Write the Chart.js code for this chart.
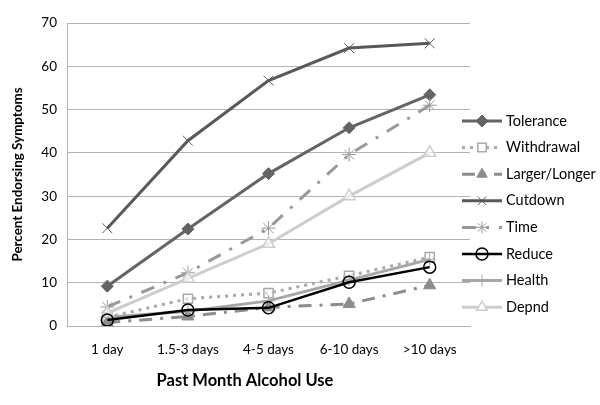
<!DOCTYPE html>
<html>
<head>
<meta charset="utf-8">
<script src="https://cdn.jsdelivr.net/npm/chart.js@4/dist/chart.umd.min.js"></script>
<style>
  html, body { margin: 0; padding: 0; background: #fff; }
  #wrap { width: 600px; height: 405px; }
</style>
</head>
<body>
<div id="wrap"><canvas id="chart" width="600" height="405"></canvas></div>
<script>
// --- DATA ---
const categories = ['1 day', '1.5-3 days', '4-5 days', '6-10 days', '>10 days'];

const tolerance  = [9.2, 22.4, 35.2, 45.8, 53.4];
const withdrawal = [2.0, 6.3, 7.6, 11.6, 15.9];
const largerLonger = [0.8, 2.2, 4.3, 5.1, 9.4];
const cutdown    = [22.6, 42.8, 56.7, 64.2, 65.3];
const timeSpent  = [4.4, 12.3, 22.6, 39.6, 51.0];
const reduce     = [1.4, 3.7, 4.2, 10.1, 13.6];
const health     = [2.0, 3.4, 5.8, 10.6, 15.4];
const depnd      = [3.0, 11.0, 19.0, 30.0, 40.0];

const yTicks = [0, 10, 20, 30, 40, 50, 60, 70];

const xTitle = 'Past Month Alcohol Use';
const yTitle = 'Percent Endorsing Symptoms';

const FONT = 'Lato, "Open Sans", sans-serif';

function serie(label, data, color, opts) {
    return Object.assign({
        label: label,
        data: data,
        borderColor: color,
        backgroundColor: color,
        pointBorderColor: color,
        pointBackgroundColor: color,
        borderWidth: 3,
        pointRadius: 5,
        pointBorderWidth: 1,
        tension: 0,
        fill: false
    }, opts);
}

// ordre de dessin: les séries du bas sont dessinées par dessus
const datasets = [
    serie('Tolerance', tolerance, '#646464', { pointStyle: 'rectRot', pointRadius: 6, order: 8 }),
    serie('Withdrawal', withdrawal, '#a9a9a9', { pointStyle: 'rect', pointRadius: 6.5, borderDash: [3, 5],
        pointBackgroundColor: 'rgba(255,255,255,0.6)', pointBorderWidth: 1.5, order: 7 }),
    serie('Larger/Longer', largerLonger, '#8c8c8c', { pointStyle: 'triangle', pointRadius: 7, borderDash: [13, 8, 3, 8], order: 6 }),
    serie('Cutdown', cutdown, '#595959', { pointStyle: 'crossRot', pointRadius: 7, order: 5 }),
    serie('Time', timeSpent, '#999999', { pointStyle: 'star', pointRadius: 7, borderDash: [14, 10, 3, 10], order: 4 }),
    serie('Reduce', reduce, '#000000', { pointStyle: 'circle', pointRadius: 6, borderWidth: 2.5,
        pointBackgroundColor: 'rgba(255,255,255,0)', pointBorderWidth: 1.5, order: 1 }),
    serie('Health', health, '#a6a6a6', { pointStyle: 'cross', pointRadius: 6, order: 3 }),
    serie('Depnd', depnd, '#cdcdcd', { pointStyle: 'triangle', pointRadius: 7,
        pointBackgroundColor: 'rgba(255,255,255,0.6)', pointBorderWidth: 1.5, order: 2 })
];

// --- LÉGENDE (ligne + marqueur, comme Excel) + titre X ---
const excelLegend = {
    id: 'excelLegend',
    afterDraw(chart) {
        const ctx = chart.ctx;
        const x0 = 462, x1 = 502, xm = 482, xt = 506;
        let y = 121;
        chart.data.datasets.forEach(ds => {
            ctx.save();
            ctx.strokeStyle = ds.borderColor;
            ctx.lineWidth = ds.borderWidth;
            ctx.setLineDash(ds.borderDash || []);
            ctx.beginPath();
            ctx.moveTo(x0, y);
            ctx.lineTo(x1, y);
            ctx.stroke();
            ctx.setLineDash([]);
            ctx.fillStyle = ds.pointBackgroundColor === 'rgba(255,255,255,0.6)' ? '#fff' : ds.pointBackgroundColor;
            ctx.strokeStyle = ds.pointBorderColor;
            ctx.lineWidth = ds.pointBorderWidth;
            Chart.helpers.drawPoint(ctx, {
                pointStyle: ds.pointStyle,
                radius: Math.min(ds.pointRadius, 6),
                rotation: 0,
                borderWidth: ds.pointBorderWidth
            }, xm, y);
            ctx.fillStyle = '#000';
            ctx.font = '14.5px ' + FONT;
            ctx.textBaseline = 'middle';
            ctx.textAlign = 'left';
            ctx.fillText(ds.label, xt, y);
            ctx.restore();
            y += 26.6;
        });

        // titre de l'axe X (décalé à gauche comme dans l'original)
        ctx.save();
        ctx.fillStyle = '#000';
        ctx.font = 'bold 16.5px ' + FONT;
        ctx.textAlign = 'center';
        ctx.textBaseline = 'middle';
        ctx.fillText(xTitle, 245, 381);
        ctx.restore();
    }
};

new Chart(document.getElementById('chart').getContext('2d'), {
    type: 'line',
    data: { labels: categories, datasets: datasets },
    plugins: [excelLegend],
    options: {
        responsive: false,
        animation: false,
        layout: { padding: { left: 0, right: 130, top: 23, bottom: 0 } },
        plugins: {
            legend: { display: false },
            tooltip: { enabled: false }
        },
        scales: {
            x: {
                offset: true,
                grid: { display: false, drawTicks: false },
                border: { display: true, color: '#b4b4b4', width: 1 },
                ticks: { color: '#000', font: { family: FONT, size: 13.5 }, padding: 16, maxRotation: 0 },
                afterFit(scale) { scale.height = 79; }
            },
            y: {
                min: 0, max: 70,
                afterBuildTicks(scale) { scale.ticks = yTicks.map(v => ({ value: v })); },
                grid: { color: '#b4b4b4', lineWidth: 1, drawTicks: false },
                border: { display: true, color: '#b4b4b4', width: 1 },
                ticks: { color: '#000', font: { family: FONT, size: 13.5 }, padding: 10 },
                title: { display: true, text: yTitle, color: '#000',
                    font: { family: FONT, size: 13.4, weight: 'bold' }, padding: { top: 10, bottom: 0 } },
                afterFit(scale) { scale.width = 67; }
            }
        }
    }
});
</script>
</body>
</html>
